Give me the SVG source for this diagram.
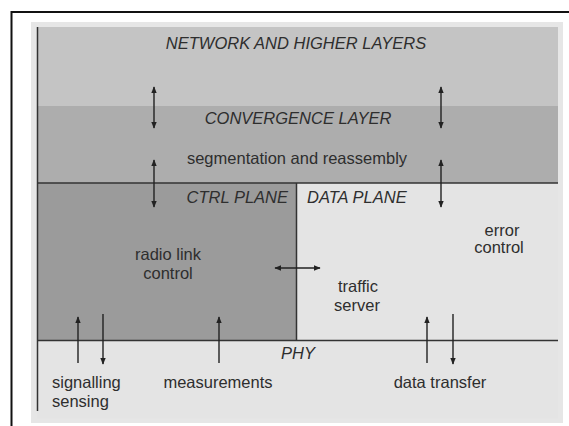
<svg xmlns="http://www.w3.org/2000/svg" width="569" height="426" viewBox="0 0 569 426">
  <defs>
    <marker id="ah" viewBox="0 0 10 10" refX="9" refY="5" markerWidth="7" markerHeight="7" markerUnits="userSpaceOnUse" orient="auto-start-reverse">
      <path d="M0,1 L10,5 L0,9 z" fill="#222"/>
    </marker>
  </defs>
  <style>
    text { font-family: "Liberation Sans", Arial, sans-serif; font-size: 16.5px; fill: #2e2e2e; }
    .it { font-style: italic; }
    .ln { stroke: #333; stroke-width: 1.5; fill: none; }
    .conn line { stroke: #222; stroke-width: 1.4; }
    .c { text-anchor: middle; }
  </style>
  <rect x="0" y="0" width="569" height="426" fill="#ffffff"/>
  <!-- outer frame -->
  <path d="M11.5,426 V12 H569" fill="none" stroke="#111" stroke-width="2"/>
  <!-- outer panel -->
  <rect x="31" y="22" width="532" height="401" fill="#e6e6e6"/>

  <g id="network-layer">
    <rect x="37" y="27" width="521" height="79" fill="#c4c4c4"/>
    <text class="it c" x="296" y="49">NETWORK AND HIGHER LAYERS</text>
  </g>

  <g id="convergence-layer">
    <rect x="37" y="106" width="521" height="77" fill="#adadad"/>
    <text class="it c" x="298" y="124">CONVERGENCE LAYER</text>
    <text class="c" x="297" y="164">segmentation and reassembly</text>
  </g>

  <g id="ctrl-plane">
    <rect x="37" y="183" width="259.5" height="157.5" fill="#9b9b9b"/>
    <text class="it" x="288" y="203" text-anchor="end">CTRL PLANE</text>
    <text class="c" x="168" y="260">radio link</text>
    <text class="c" x="168" y="279">control</text>
  </g>

  <g id="data-plane">
    <rect x="296.5" y="183" width="261.5" height="157.5" fill="#e4e4e4"/>
    <text class="it" x="307" y="203">DATA PLANE</text>
    <text class="c" x="502" y="236">error</text>
    <text class="c" x="499" y="253">control</text>
    <text class="c" x="358" y="292">traffic</text>
    <text class="c" x="357" y="311">server</text>
  </g>

  <g id="phy">
    <rect x="37" y="340.5" width="521" height="78" fill="#e4e4e4"/>
    <text class="it c" x="298" y="359">PHY</text>
    <text x="52" y="388">signalling</text>
    <text x="52" y="407">sensing</text>
    <text class="c" x="218" y="388">measurements</text>
    <text class="c" x="440" y="388">data transfer</text>
  </g>

  <!-- divider lines -->
  <g id="borders">
    <line class="ln" x1="37.5" y1="27" x2="37.5" y2="411"/>
    <line class="ln" x1="37" y1="183" x2="558" y2="183"/>
    <line class="ln" x1="37" y1="340.5" x2="558" y2="340.5"/>
    <line class="ln" x1="296.5" y1="183" x2="296.5" y2="340.5"/>
  </g>

  <g id="connectors" class="conn">
    <line x1="154" y1="87" x2="154" y2="128" marker-start="url(#ah)" marker-end="url(#ah)"/>
    <line x1="154" y1="160" x2="154" y2="207" marker-start="url(#ah)" marker-end="url(#ah)"/>
    <line x1="441" y1="87" x2="441" y2="128" marker-start="url(#ah)" marker-end="url(#ah)"/>
    <line x1="441" y1="160" x2="441" y2="207" marker-start="url(#ah)" marker-end="url(#ah)"/>
    <line x1="275" y1="268" x2="320" y2="268" marker-start="url(#ah)" marker-end="url(#ah)"/>
    <line x1="78" y1="363" x2="78" y2="317" marker-end="url(#ah)"/>
    <line x1="103" y1="314" x2="103" y2="364" marker-end="url(#ah)"/>
    <line x1="219" y1="363" x2="219" y2="317" marker-end="url(#ah)"/>
    <line x1="427" y1="363" x2="427" y2="317" marker-end="url(#ah)"/>
    <line x1="453" y1="314" x2="453" y2="364" marker-end="url(#ah)"/>
  </g>
</svg>
